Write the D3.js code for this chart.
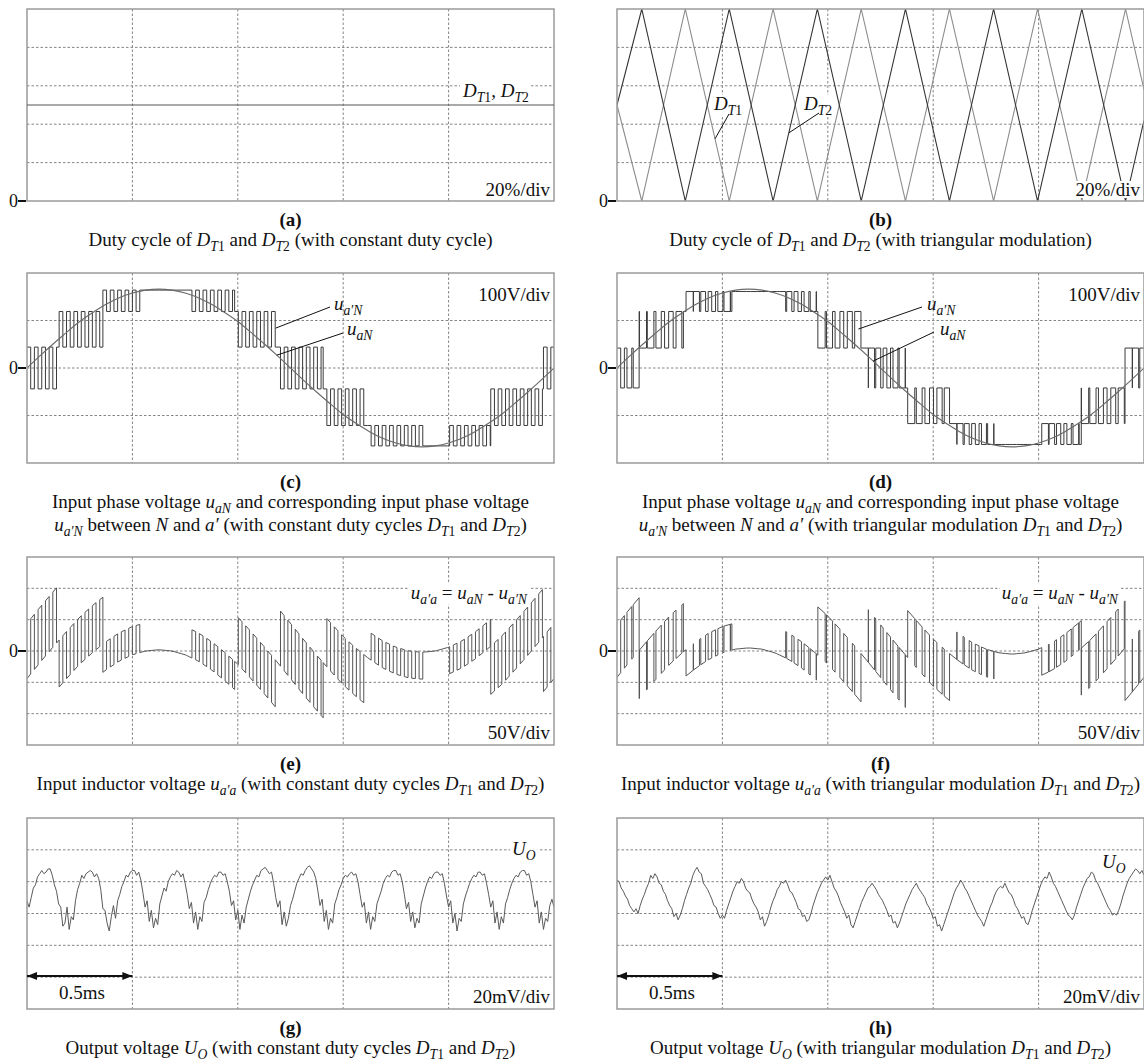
<!DOCTYPE html>
<html>
<head>
<meta charset="utf-8">
<script src="https://cdn.jsdelivr.net/npm/d3@7"></script>
<style>
  body { margin: 0; background: #fff; }
  svg { display: block; font-family: "Liberation Serif", "Times New Roman", "DejaVu Serif", serif; }
  text { white-space: pre; }
</style>
</head>
<body>
<div id="fig"></div>
<script>
// time axis of every panel is in scope divisions (5 divs, 0.5 ms/div)
const timeDivs = 5;

// (a) constant duty cycle of T1 and T2, %
const dutyConstT = [0, 5];
const dutyConst = [50, 50];

// (b) triangular modulation, vertices of D_T1 and D_T2, %
const triVertexT = [0, 0.235, 0.648, 1.065, 1.481, 1.901, 2.317, 2.737, 3.154, 3.573, 3.990, 4.410, 4.825, 5.0];
const dT1Vertex = [50, 0, 100, 0, 100, 0, 100, 0, 100, 0, 100, 0, 100, 58];
const dT2Vertex = [50, 100, 0, 100, 0, 100, 0, 100, 0, 100, 0, 100, 0, 42];

// input phase voltage u_aN, V, one sample every 0.125 div
const uaNStep = 0.125;
const uaN = [0, 26, 51, 75, 98, 117, 134, 148, 158, 164, 166, 164, 158, 148, 134, 117, 98, 75, 51, 26,
  0, -26, -51, -75, -98, -117, -134, -148, -158, -164, -166, -164, -158, -148, -134, -117, -98, -75, -51, -26, 0];

// u_a'N with constant duty: intervals and the two levels switched between, V
const constBounds = [0, 0.305, 0.72, 1.08, 1.53, 1.97, 2.37, 2.81, 3.23, 3.78, 4.01, 4.40, 4.90, 5.0];
const constLo = [-44, 44, 119, 164, 119, 44, -44, -121, -164, -164, -164, -121, -44];
const constHi = [44, 119, 164, 164, 164, 119, 44, -44, -121, -164, -121, -44, 44];

// u_a'N with triangular modulation
const triBounds = [0, 0.21, 0.655, 1.09, 1.54, 1.905, 2.315, 2.755, 3.155, 3.58, 4.03, 4.405, 4.82, 5.0];
const triLo = [-42, 42, 119, 161, 119, 42, -42, -117, -161, -161, -161, -117, -42];
const triHi = [42, 119, 161, 161, 161, 119, 42, -42, -117, -161, -117, -42, 42];

const pwmPeriod = 0.07; // switching period, div

// output voltage ripple U_O, mV, one sample every 0.02 div
const uoStep = 0.02;
const uoConst = [8, 4, 10, 16, 18, 23, 25, 27, 25, 26, 28, 28, 24, 18, 14, 6, 4, -8, -6, 4, -10, -2, -4,
  8, 15, 19, 24, 22, 25, 26, 27, 26, 23, 25, 22, 15, 3, 2, -6, -11, -2, 5, -3,
  8, 12, 17, 20, 24, 23, 26, 27, 27, 24, 26, 21, 13, 4, 8, -5, 2, -9, -3, -7, 6,
  11, 16, 14, 20, 23, 25, 24, 27, 26, 23, 25, 19, 12, 3, 7, -6, 1, -10, -2, -5, 7,
  10, 15, 19, 22, 24, 23, 26, 26, 24, 25, 20, 14, 5, 8, -4, 2, -10, -1, -6, 4, 9,
  14, 18, 21, 24, 23, 27, 28, 29, 27, 25, 26, 19, 10, 4, 8, -7, 1, -8, -3, 5,
  9, 14, 19, 22, 25, 24, 27, 29, 30, 28, 26, 22, 14, 5, 9, -5, 2, -10, -3, -6, 6,
  10, 15, 18, 22, 24, 23, 25, 26, 24, 25, 20, 12, 4, 7, -6, 1, -10, -2, -5, 6,
  10, 14, 19, 22, 24, 23, 26, 27, 27, 24, 25, 20, 12, 3, 7, -5, 1, -9, -3, -6, 6,
  11, 16, 20, 23, 22, 25, 26, 26, 24, 25, 19, 11, 4, 8, -6, 0, -11, -3, -5, 6,
  11, 15, 19, 22, 24, 23, 26, 26, 24, 25, 19, 12, 4, 8, -6, 1, -10, -2, -6, 6,
  10, 15, 19, 22, 24, 23, 26, 27, 27, 24, 25, 20, 12, 4, 8, -6, 1, -10, -3, -5, 5, 9, 4];
const uoTri = [21, 20, 16, 14, 11, 9, 5, 3, 1, 3, 0, 5, 9, 12, 16, 19, 24, 22, 25, 23, 19, 18, 14, 12, 8, 5, 3, -2, 0, -4,
  -1, 3, 8, 12, 16, 19, 24, 27, 29, 26, 25, 19, 17, 15, 12, 9, 5, 4, 0, -3, -1,
  -3, 2, 6, 10, 14, 17, 20, 19, 22, 20, 16, 14, 13, 9, 6, 4, 1, -4, -2, -8,
  -5, -1, 4, 8, 11, 15, 17, 20, 19, 21, 18, 14, 13, 10, 7, 3, 2, -2, -1, -5, -4,
  0, 5, 9, 13, 16, 19, 21, 23, 21, 24, 20, 16, 14, 11, 7, 4, 1, -3, -1, -7, -9,
  -5, -1, 3, 7, 10, 13, 16, 17, 19, 17, 15, 12, 10, 8, 5, 2, -2, -1, -6, -5, -9,
  -6, -2, 2, 6, 9, 12, 15, 17, 19, 16, 14, 12, 10, 6, 4, 1, -3, -2, -8, -7, -11,
  -7, -3, 1, 5, 9, 13, 16, 18, 21, 19, 16, 14, 11, 8, 5, 2, -1, -3, -5, -8,
  -4, 0, 4, 7, 11, 14, 16, 17, 16, 19, 16, 13, 12, 9, 5, 3, 0, -3, -2, -6, -7,
  -3, 2, 6, 10, 14, 18, 21, 23, 22, 26, 23, 19, 17, 14, 11, 8, 5, 2, -1, -2, -4,
  -1, 4, 8, 12, 16, 19, 22, 23, 26, 25, 21, 19, 16, 13, 10, 7, 4, 2, -1, 0, -1,
  2, 6, 11, 15, 19, 22, 24, 26, 28, 27, 25, 27, 24];

const scaleLabels = ['20%/div', '20%/div', '100V/div', '100V/div', '50V/div', '50V/div', '20mV/div', '20mV/div'];
const timeLabel = '0.5ms';
const timeArrowDivs = [0, 1];

// ---------------------------------------------------------------
const W = 1144, H = 1061, FS = 19;
const colX = [27, 617], panelW = 527;
const rowBox = [{ y: 9, h: 192 }, { y: 273, h: 190 }, { y: 557, h: 188 }, { y: 818, h: 191 }];

const svg = d3.select('#fig').append('svg')
  .attr('width', W).attr('height', H).attr('viewBox', [0, 0, W, H]);
svg.append('rect').attr('width', W).attr('height', H).attr('fill', '#fff');
const defs = svg.append('defs');
defs.append('marker').attr('id', 'arrowhead')
  .attr('viewBox', '0 0 10 8').attr('refX', 10).attr('refY', 4)
  .attr('markerWidth', 11).attr('markerHeight', 8).attr('markerUnits', 'userSpaceOnUse')
  .attr('orient', 'auto-start-reverse')
  .append('path').attr('d', 'M0,0L10,4L0,8z').attr('fill', '#111');

function interpAt(ts, vs, t) {
  const i = Math.max(0, Math.min(d3.bisectRight(ts, t) - 1, ts.length - 2));
  const f = (t - ts[i]) / (ts[i + 1] - ts[i]);
  return vs[i] + (vs[i + 1] - vs[i]) * f;
}
const uaNT = uaN.map((d, i) => i * uaNStep);
const uaNAt = t => interpAt(uaNT, uaN, t);

function richText(sel, parts, size) {
  let shift = 0;
  parts.forEach(([s, k]) => {
    const sub = k === 's' || k === 'si';
    const target = sub ? size * 0.24 : 0;
    sel.append('tspan')
      .attr('dy', target - shift)
      .attr('font-size', sub ? size * 0.72 : size)
      .attr('font-style', (k === 'i' || k === 'si') ? 'italic' : 'normal')
      .text(s);
    shift = target;
  });
  return sel;
}

function label(parent, x, y, parts, opts = {}) {
  const g = parent.append('g');
  const t = g.append('text').attr('x', x).attr('y', y)
    .attr('text-anchor', opts.anchor || 'start')
    .attr('font-weight', opts.bold ? 'bold' : 'normal')
    .attr('fill', '#111');
  richText(t, parts, opts.size || FS);
  if (opts.bg) {
    const b = t.node().getBBox();
    g.insert('rect', 'text').attr('x', b.x - 2).attr('y', b.y + 2).attr('width', b.width + 4).attr('height', b.height - 4)
      .attr('fill', '#fff');
  }
  return g;
}

function makePanel(col, row, yDom, yDivs, key) {
  const x0 = colX[col], y0 = rowBox[row].y, h = rowBox[row].h;
  const x = d3.scaleLinear().domain([0, timeDivs]).range([x0, x0 + panelW]);
  const y = d3.scaleLinear().domain(yDom).range([y0 + h, y0]);
  const g = svg.append('g');
  defs.append('clipPath').attr('id', 'clip-' + key)
    .append('rect').attr('x', x0).attr('y', y0).attr('width', panelW).attr('height', h);

  const grid = g.append('g').attr('stroke', '#858585').attr('stroke-width', 1).attr('stroke-dasharray', '2.5,2');
  grid.selectAll('line.v').data(d3.range(1, timeDivs)).join('line')
    .attr('x1', d => x(d)).attr('x2', d => x(d)).attr('y1', y0).attr('y2', y0 + h);
  const yTicks = d3.range(1, yDivs).map(k => yDom[0] + k * (yDom[1] - yDom[0]) / yDivs);
  grid.selectAll('line.h').data(yTicks).join('line')
    .attr('x1', x0).attr('x2', x0 + panelW).attr('y1', d => y(d)).attr('y2', d => y(d));

  const plot = g.append('g').attr('clip-path', `url(#clip-${key})`).attr('fill', 'none');
  g.append('rect').attr('x', x0).attr('y', y0).attr('width', panelW).attr('height', h)
    .attr('fill', 'none').attr('stroke', '#9a9a9a').attr('stroke-width', 1.5);
  const ann = g.append('g');
  return { g, plot, ann, x, y, x0, y0, h };
}

function zeroMark(p, v) {
  const yy = p.y(v);
  p.ann.append('text').attr('x', p.x0 - 9).attr('y', yy).attr('dy', '0.35em')
    .attr('text-anchor', 'end').attr('font-size', 18).attr('fill', '#111').text('0');
  p.ann.append('line').attr('x1', p.x0 - 9).attr('x2', p.x0 - 1).attr('y1', yy).attr('y2', yy)
    .attr('stroke', '#111').attr('stroke-width', 2);
}

function scaleText(p, txt, yOff) {
  label(p.ann, p.x0 + panelW - 4, p.y0 + yOff, [[txt, '']], { anchor: 'end', bg: true });
}

function pointer(p, x1, y1, tx, ty) {
  p.ann.append('line').attr('x1', p.x0 + x1).attr('y1', p.y0 + y1).attr('x2', tx).attr('y2', ty)
    .attr('stroke', '#111').attr('stroke-width', 1);
}

const DT1 = [['D', 'i'], ['T', 'si'], ['1', 's']];
const DT2 = [['D', 'i'], ['T', 'si'], ['2', 's']];
const uaNp = [['u', 'i'], ['aN', 'si']];
const uapN = [['u', 'i'], ['a′N', 'si']];
const uapa = [['u', 'i'], ['a′a', 'si']];
const UO = [['U', 'i'], ['O', 'si']];

function caption(col, row, letter, lines) {
  const cx = colX[col] + panelW / 2;
  const yb = rowBox[row].y + rowBox[row].h;
  label(svg, cx, yb + 25, [['(' + letter + ')', '']], { anchor: 'middle', bold: true });
  lines.forEach((parts, i) => label(svg, cx, yb + 45 + i * 23, parts, { anchor: 'middle' }));
}

// PWM segments [t0, t1, level] of u_a'N
function pwmSegments(bounds, lo, hi, dutyAt) {
  const segs = [];
  for (let b = 0; b < lo.length; b++) {
    const t0 = bounds[b], t1 = bounds[b + 1];
    for (let t = t0; t < t1 - 1e-9; t += pwmPeriod) {
      const te = Math.min(t + pwmPeriod, t1);
      if (lo[b] === hi[b]) {
        const tm = (t + te) / 2;
        segs.push([t, tm, hi[b]], [tm, te, hi[b]]);
        continue;
      }
      const tm = Math.min(t + dutyAt(t) * pwmPeriod, te);
      if (tm > t) segs.push([t, tm, hi[b]]);
      if (te > tm) segs.push([tm, te, lo[b]]);
    }
  }
  return segs;
}
const segsConst = pwmSegments(constBounds, constLo, constHi, t => interpAt(dutyConstT, dutyConst, t) / 100);
const segsTri = pwmSegments(triBounds, triLo, triHi, t => interpAt(triVertexT, dT1Vertex, t) / 100);

function drawPhase(p, segs) {
  const pts = segs.flatMap(s => [[s[0], s[2]], [s[1], s[2]]]);
  p.plot.append('path').attr('d', d3.line().x(d => p.x(d[0])).y(d => p.y(d[1]))(pts))
    .attr('stroke', '#3a3a3a').attr('stroke-width', 1);
  p.plot.append('path').attr('d', d3.line().curve(d3.curveNatural).x((d, i) => p.x(uaNT[i])).y(d => p.y(d))(uaN))
    .attr('stroke', '#6a6a6a').attr('stroke-width', 1.1);
}
function drawInductor(p, segs) {
  const pts = segs.flatMap(s => [[s[0], uaNAt(s[0]) - s[2]], [s[1], uaNAt(s[1]) - s[2]]]);
  p.plot.append('path').attr('d', d3.line().x(d => p.x(d[0])).y(d => p.y(d[1]))(pts))
    .attr('stroke', '#555').attr('stroke-width', 1);
}
function drawRipple(p, vals) {
  p.plot.append('path').attr('d', d3.line().x((d, i) => p.x(i * uoStep)).y(d => p.y(d))(vals))
    .attr('stroke', '#5a5a5a').attr('stroke-width', 1);
}

// ---------- (a)
const pa = makePanel(0, 0, [0, 100], 5, 'a');
label(pa.ann, pa.x0 + 436, pa.y0 + 88, [...DT1, [', ', ''], ...DT2], { bg: true });
pa.ann.append('path').attr('d', d3.line().x((d, i) => pa.x(dutyConstT[i])).y(d => pa.y(d))(dutyConst))
  .attr('fill', 'none').attr('stroke', '#555').attr('stroke-width', 1.2);
scaleText(pa, scaleLabels[0], 187);
zeroMark(pa, 0);

// ---------- (b)
const pb = makePanel(1, 0, [0, 100], 5, 'b');
pb.plot.append('path').attr('d', d3.line().x((d, i) => pb.x(triVertexT[i])).y(d => pb.y(d))(dT1Vertex))
  .attr('stroke', '#8c8c8c').attr('stroke-width', 1.1);
pb.plot.append('path').attr('d', d3.line().x((d, i) => pb.x(triVertexT[i])).y(d => pb.y(d))(dT2Vertex))
  .attr('stroke', '#333').attr('stroke-width', 1.1);
label(pb.ann, pb.x0 + 97, pb.y0 + 101, DT1, { bg: true });
label(pb.ann, pb.x0 + 187, pb.y0 + 101, DT2, { bg: true });
pointer(pb, 112, 105, pb.x(0.93), pb.y(interpAt(triVertexT, dT1Vertex, 0.93)));
pointer(pb, 202, 104, pb.x(1.63), pb.y(interpAt(triVertexT, dT2Vertex, 1.63)));
scaleText(pb, scaleLabels[1], 187);
zeroMark(pb, 0);

// ---------- (c)
const pc = makePanel(0, 1, [-200, 200], 4, 'c');
drawPhase(pc, segsConst);
label(pc.ann, pc.x0 + 307, pc.y0 + 37, uapN);
label(pc.ann, pc.x0 + 320, pc.y0 + 62, uaNp);
pointer(pc, 303, 34, pc.x(2.36), pc.y(84));
pointer(pc, 316, 60, pc.x(2.37), pc.y(uaNAt(2.37)));
scaleText(pc, scaleLabels[2], 28);
zeroMark(pc, 0);

// ---------- (d)
const pd = makePanel(1, 1, [-200, 200], 4, 'd');
drawPhase(pd, segsTri);
label(pd.ann, pd.x0 + 310, pd.y0 + 37, uapN);
label(pd.ann, pd.x0 + 323, pd.y0 + 62, uaNp);
pointer(pd, 305, 34, pd.x(2.29), pd.y(82));
pointer(pd, 317, 59, pd.x(2.43), pd.y(uaNAt(2.43)));
scaleText(pd, scaleLabels[3], 28);
zeroMark(pd, 0);

// ---------- (e)
const pe = makePanel(0, 2, [-150, 150], 6, 'e');
drawInductor(pe, segsConst);
label(pe.ann, pe.x0 + 500, pe.y0 + 42, [...uapa, [' = ', ''], ...uaNp, [' - ', ''], ...uapN], { bg: true, anchor: 'end' });
scaleText(pe, scaleLabels[4], 182);
zeroMark(pe, 0);

// ---------- (f)
const pf = makePanel(1, 2, [-150, 150], 6, 'f');
drawInductor(pf, segsTri);
label(pf.ann, pf.x0 + 501, pf.y0 + 42, [...uapa, [' = ', ''], ...uaNp, [' - ', ''], ...uapN], { bg: true, anchor: 'end' });
scaleText(pf, scaleLabels[5], 182);
zeroMark(pf, 0);

// ---------- (g), (h)
[[0, uoConst, 'g', 37], [1, uoTri, 'h', 50]].forEach(([col, vals, key, uoY]) => {
  const p = makePanel(col, 3, [-60, 60], 6, key);
  drawRipple(p, vals);
  label(p.ann, p.x0 + 485, p.y0 + uoY, UO, { bg: true });
  scaleText(p, scaleLabels[6 + col], 185);
  p.ann.append('line')
    .attr('x1', p.x(timeArrowDivs[0])).attr('x2', p.x(timeArrowDivs[1]))
    .attr('y1', p.y0 + 158).attr('y2', p.y0 + 158)
    .attr('stroke', '#111').attr('stroke-width', 2)
    .attr('marker-start', 'url(#arrowhead)').attr('marker-end', 'url(#arrowhead)');
  label(p.ann, p.x0 + 32, p.y0 + 181, [[timeLabel, '']]);
});

// ---------- captions
caption(0, 0, 'a', [[['Duty cycle of ', ''], ...DT1, [' and ', ''], ...DT2, [' (with constant duty cycle)', '']]]);
caption(1, 0, 'b', [[['Duty cycle of ', ''], ...DT1, [' and ', ''], ...DT2, [' (with triangular modulation)', '']]]);
caption(0, 1, 'c', [
  [['Input phase voltage ', ''], ...uaNp, [' and corresponding input phase voltage', '']],
  [...uapN, [' between ', ''], ['N', 'i'], [' and ', ''], ['a′', 'i'], [' (with constant duty cycles ', ''], ...DT1, [' and ', ''], ...DT2, [')', '']]]);
caption(1, 1, 'd', [
  [['Input phase voltage ', ''], ...uaNp, [' and corresponding input phase voltage', '']],
  [...uapN, [' between ', ''], ['N', 'i'], [' and ', ''], ['a′', 'i'], [' (with triangular modulation ', ''], ...DT1, [' and ', ''], ...DT2, [')', '']]]);
caption(0, 2, 'e', [[['Input inductor voltage ', ''], ...uapa, [' (with constant duty cycles ', ''], ...DT1, [' and ', ''], ...DT2, [')', '']]]);
caption(1, 2, 'f', [[['Input inductor voltage ', ''], ...uapa, [' (with triangular modulation ', ''], ...DT1, [' and ', ''], ...DT2, [')', '']]]);
caption(0, 3, 'g', [[['Output voltage ', ''], ...UO, [' (with constant duty cycles ', ''], ...DT1, [' and ', ''], ...DT2, [')', '']]]);
caption(1, 3, 'h', [[['Output voltage ', ''], ...UO, [' (with triangular modulation ', ''], ...DT1, [' and ', ''], ...DT2, [')', '']]]);
</script>
</body>
</html>
